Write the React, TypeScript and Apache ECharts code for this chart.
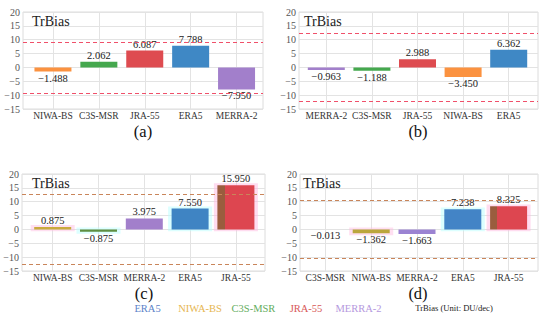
import React, { useEffect, useRef } from 'react';
import * as echarts from 'echarts';

// ---------- data ----------
const categoriesA = ['NIWA-BS', 'C3S-MSR', 'JRA-55', 'ERA5', 'MERRA-2'];
const valuesA = [-1.488, 2.062, 6.087, 7.788, -7.95];
const thresholdsA = [9.1, -9.3];

const categoriesB = ['MERRA-2', 'C3S-MSR', 'JRA-55', 'NIWA-BS', 'ERA5'];
const valuesB = [-0.963, -1.188, 2.988, -3.45, 6.362];
const thresholdsB = [12.2, -12.2];

const categoriesC = ['NIWA-BS', 'C3S-MSR', 'MERRA-2', 'ERA5', 'JRA-55'];
const valuesC = [0.875, -0.875, 3.975, 7.55, 15.95];
const thresholdsC = [12.6, -12.6];

const categoriesD = ['C3S-MSR', 'NIWA-BS', 'MERRA-2', 'ERA5', 'JRA-55'];
const valuesD = [-0.013, -1.362, -1.663, 7.238, 8.325];
const thresholdsD = [10.6, -10.5];

const yMin = -15;
const yMax = 20;
const yInterval = 5;

const panelLetters = ['(a)', '(b)', '(c)', '(d)'];
const panelTitle = 'TrBias';
const legendNames = ['ERA5', 'NIWA-BS', 'C3S-MSR', 'JRA-55', 'MERRA-2'];
const legendNote = 'TrBias (Unit: DU/dec)';

// ---------- styles ----------
const SERIF = 'Liberation Serif';

const baseColors: Record<string, any> = {
  'ERA5': '#3f88c5',
  'NIWA-BS': '#fb9240',
  'C3S-MSR': '#45a84e',
  'JRA-55': '#de4b50',
  'MERRA-2': '#a27fcb',
};
const jraStriped = {
  type: 'linear', x: 0, y: 0, x2: 1, y2: 0,
  colorStops: [
    { offset: 0, color: '#9a5d3e' },
    { offset: 0.2, color: '#9a5d3e' },
    { offset: 0.2, color: '#dd4650' },
    { offset: 1, color: '#dd4650' },
  ],
};
const panelColorOverrides: Record<string, any>[] = [
  {},
  {},
  { 'NIWA-BS': '#c9ab3e', 'C3S-MSR': '#5e8f42', 'ERA5': '#3f84c3', 'JRA-55': jraStriped },
  { 'NIWA-BS': '#bba63c', 'MERRA-2': '#9b83d2', 'ERA5': '#4384c6', 'JRA-55': jraStriped },
];
const haloSpecs: Record<string, string>[] = [
  {},
  {},
  { 'NIWA-BS': 'rgba(255,185,225,0.45)', 'C3S-MSR': 'rgba(185,255,255,0.5)', 'ERA5': 'rgba(185,255,255,0.5)', 'JRA-55': 'rgba(255,185,225,0.5)' },
  { 'NIWA-BS': 'rgba(255,185,225,0.45)', 'ERA5': 'rgba(185,255,255,0.5)', 'JRA-55': 'rgba(255,185,225,0.5)' },
];
const dashColors = ['#f0506a', '#f0506a', '#c9855a', '#c9855a'];
const legendColors: Record<string, string> = {
  'ERA5': '#5b82c8',
  'NIWA-BS': '#e6b651',
  'C3S-MSR': '#64ad5e',
  'JRA-55': '#d75858',
  'MERRA-2': '#b598de',
};

// layout (px)
const outerGrids = [
  { left: 23, top: 12, width: 240, height: 97 },
  { left: 299, top: 12, width: 239, height: 97 },
  { left: 22, top: 174, width: 243, height: 97 },
  { left: 300, top: 174, width: 238, height: 97 },
];
const innerGrids = [
  { left: 30, top: 12, width: 229.5, height: 97 },
  { left: 303.5, top: 12, width: 228, height: 97 },
  { left: 29.8, top: 174, width: 229, height: 97 },
  { left: 302.5, top: 174, width: 229, height: 97 },
];
const titlePos = [[32, 21], [304, 21], [32, 183], [303, 183]];
const letterPos = [[143, 131.5], [418, 131.5], [144, 293], [418, 293]];
const letterSize = 16.5;
const legendX = [147.5, 200, 253.5, 306, 358.5];
const legendNoteX = 454;
const legendY = 308;

const fmt = (v: number, d: number) => (v < 0 ? '\u2212' : '') + Math.abs(v).toFixed(d);

const txt = (text: string, x: number, y: number, size: number, fill: string, align: string) => ({
  type: 'text', x, y, z: 10,
  style: {
    text, fontFamily: SERIF, fontSize: size, fill,
    align, verticalAlign: 'middle', textAlign: align, textVerticalAlign: 'middle',
  },
});

export default function App() {
  const ref = useRef<HTMLDivElement>(null);

  useEffect(() => {
    if (!ref.current) return;
    const chart = echarts.init(ref.current, undefined, { renderer: 'svg' });

    const panels = [
      { cats: categoriesA, vals: valuesA, th: thresholdsA },
      { cats: categoriesB, vals: valuesB, th: thresholdsB },
      { cats: categoriesC, vals: valuesC, th: thresholdsC },
      { cats: categoriesD, vals: valuesD, th: thresholdsD },
    ];

    const grid: any[] = [];
    const xAxis: any[] = [];
    const yAxis: any[] = [];
    const series: any[] = [];
    const graphic: any[] = [];

    panels.forEach((p, i) => {
      grid.push({ ...outerGrids[i], show: true, borderColor: '#dcdcdc', borderWidth: 1, backgroundColor: 'transparent' });
      grid.push({ ...innerGrids[i], show: false });
      const og = 2 * i;
      const ig = 2 * i + 1;
      const xo = xAxis.length;
      xAxis.push({ type: 'value', gridIndex: og, min: 0, max: 1, show: false });
      xAxis.push({
        type: 'category', gridIndex: ig, data: p.cats, boundaryGap: true,
        axisLine: { show: false }, axisTick: { show: false },
        axisLabel: { interval: 0, fontFamily: SERIF, fontSize: 9.5, color: '#333', margin: 2, hideOverlap: false },
        splitLine: { show: true, interval: 0, alignWithLabel: true, lineStyle: { color: '#e3e3e3', width: 1 } },
      });
      xAxis.push({ type: 'category', gridIndex: ig, data: p.cats, show: false });
      const yo = yAxis.length;
      yAxis.push({
        type: 'value', gridIndex: og, min: yMin, max: yMax, interval: yInterval,
        axisLine: { show: false }, axisTick: { show: false },
        axisLabel: { fontFamily: SERIF, fontSize: 10, color: '#555', margin: 3, formatter: (v: number) => fmt(v, 0) },
        splitLine: { show: true, lineStyle: { color: '#e3e3e3', width: 1 } },
      });
      yAxis.push({ type: 'value', gridIndex: ig, min: yMin, max: yMax, interval: yInterval, show: false, splitLine: { show: false } });

      // dashed threshold lines (outer grid)
      series.push({
        type: 'line', xAxisIndex: xo, yAxisIndex: yo, data: [], silent: true,
        markLine: {
          silent: true, symbol: 'none', label: { show: false },
          lineStyle: { color: dashColors[i], type: [4, 3], width: 1.1 },
          data: p.th.map((t) => ({ yAxis: t })),
        },
      });

      // halos
      const halo = haloSpecs[i];
      if (Object.keys(halo).length) {
        const pos = p.cats.map((c, k) => (halo[c] ? { value: Math.max(p.vals[k], 0) + 0.7, itemStyle: { color: halo[c] } } : '-'));
        const neg = p.cats.map((c, k) => (halo[c] ? { value: Math.min(p.vals[k], 0) - 0.7, itemStyle: { color: halo[c] } } : '-'));
        [pos, neg].forEach((d) => series.push({
          type: 'bar', xAxisIndex: xo + 2, yAxisIndex: yo + 1, data: d, barWidth: 44,
          stack: 'halo' + i, silent: true, z: 1,
        }));
      }

      // main bars
      const colors = { ...baseColors, ...panelColorOverrides[i] };
      series.push({
        type: 'bar', xAxisIndex: xo + 1, yAxisIndex: yo + 1, barWidth: 37, z: 3,
        data: p.cats.map((c, k) => ({
          value: p.vals[k],
          itemStyle: { color: colors[c] },
          label: { position: p.vals[k] < 0 ? 'bottom' : 'top' },
        })),
        label: {
          show: true, distance: 1, fontFamily: SERIF, fontSize: 10.5, color: '#222',
          formatter: (pr: any) => fmt(pr.value, 3),
        },
      });

      graphic.push(txt(panelTitle, titlePos[i][0], titlePos[i][1], 14, '#222', 'left'));
      graphic.push(txt(panelLetters[i], letterPos[i][0], letterPos[i][1], letterSize, '#111', 'center'));
    });

    legendNames.forEach((n, k) => {
      graphic.push(txt(n, legendX[k], legendY, 10.5, legendColors[n], 'center'));
    });
    graphic.push(txt(legendNote, legendNoteX, legendY, 8.6, '#222', 'center'));

    chart.setOption({
      animation: false,
      backgroundColor: '#ffffff',
      grid, xAxis, yAxis, series, graphic,
    });

    return () => chart.dispose();
  }, []);

  return <div ref={ref} style={{ position: 'fixed', left: 0, top: 0, width: 550, height: 321 }} />;
}
